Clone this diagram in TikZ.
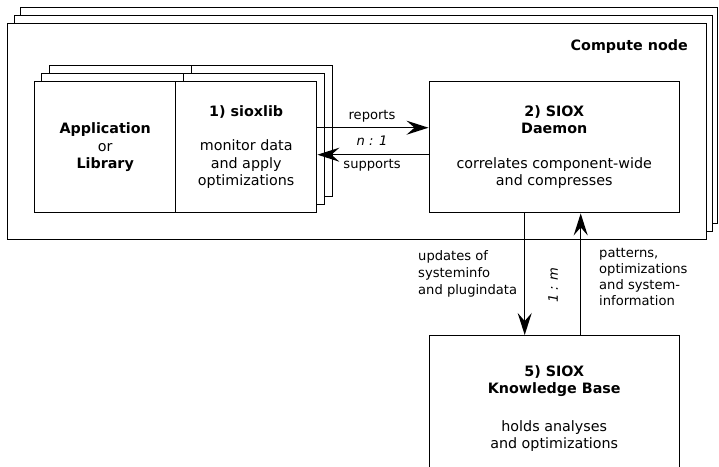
\documentclass[tikz,border=0pt]{standalone}
\usepackage{fontspec}
\setmainfont{DejaVu Sans}
\usetikzlibrary{arrows.meta}
\begin{document}
\begin{tikzpicture}[x=1pt,y=-1pt, font=\fontsize{14.3}{17.5}\selectfont,
 box/.style={draw, line width=1.4pt, fill=white, inner sep=0pt, align=center, anchor=north west},
 arr/.style={line width=1.4pt, -{Stealth[length=22pt,width=14pt,inset=8pt]}},
 lbl/.style={inner sep=0pt, align=left, anchor=north west},
 small/.style={font=\fontsize{13.1}{16.5}\selectfont},
 smallit/.style={font=\fontsize{13.1}{16.5}\selectfont\itshape}]
\useasboundingbox (0,0) rectangle (719,466);
\clip (0,0) rectangle (719,466);
% compute node stack
\node[box, minimum width=697pt, minimum height=216pt] (cn3) at (20,7) {};
\node[box, minimum width=698pt, minimum height=216pt] (cn2) at (14,15) {};
\node[box, minimum width=699pt, minimum height=216pt] (cn) at (7,23) {};
\node[anchor=east, inner sep=0pt, font=\fontsize{14.3}{17.5}\selectfont\bfseries] (cnlabel) at (688,47) {Compute node};
% application / sioxlib stack
\node[box, minimum width=142pt, minimum height=131pt] (app3) at (49,65) {};
\node[box, minimum width=141pt, minimum height=131pt] (lib3) at (191,65) {};
\node[box, minimum width=142pt, minimum height=131pt] (app2) at (41,73) {};
\node[box, minimum width=141pt, minimum height=131pt] (lib2) at (183,73) {};
\node[box, minimum width=141pt, minimum height=131pt] (app) at (34,81) {\textbf{Application}\\or\\\textbf{Library}};
\node[box, minimum width=141pt, minimum height=131pt] (lib) at (175,81) {\textbf{1) sioxlib}\\[17pt]monitor data\\and apply\\optimizations};
% daemon
\node[box, minimum width=250pt, minimum height=131pt] (daemon) at (428.5,81) {\textbf{2) SIOX}\\\textbf{Daemon}\\[17pt]correlates component-wide\\and compresses};
% knowledge base
\node[box, minimum width=250pt, minimum height=146pt] (kb) at (428.5,335) {\textbf{5) SIOX}\\\textbf{Knowledge Base}\\[20pt]holds analyses\\and optimizations};
% connectors
\draw[arr] ([yshift=19.5pt]lib.east) -- ([yshift=19.5pt]daemon.west);
\draw[arr] ([yshift=-7.5pt]daemon.west) -- ([yshift=-7.5pt]lib.east);
\draw[arr] ([xshift=-29.5pt]daemon.south) -- ([xshift=-29.5pt]kb.north);
\draw[arr] ([xshift=26.5pt]kb.north) -- ([xshift=26.5pt]daemon.south);
% labels
\node[inner sep=0pt, small] (rep) at (372,116) {reports};
\node[inner sep=0pt, smallit] (n1) at (372,141) {n : 1};
\node[inner sep=0pt, small] (sup) at (372,165) {supports};
\node[inner sep=0pt, rotate=90, smallit] (m1) at (553,285) {1 : m};
\node[lbl, font=\fontsize{13.1}{17}\selectfont] (upd) at (418,250) {updates of\\systeminfo\\and plugindata};
\node[lbl, font=\fontsize{13.1}{16}\selectfont] (pat) at (599,248) {patterns,\\optimizations\\and system-\\information};
\end{tikzpicture}
\end{document}
